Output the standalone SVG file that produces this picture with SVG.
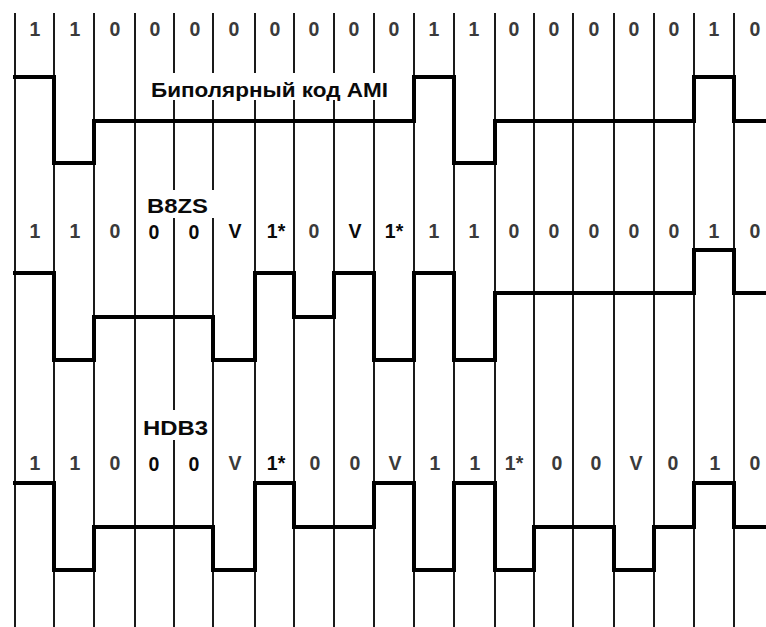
<svg xmlns="http://www.w3.org/2000/svg" width="766" height="627" viewBox="0 0 766 627">
<style>
.grid{stroke:#1a1a1a;stroke-width:2;fill:none}
.wave{stroke:#000;stroke-width:4;fill:none;stroke-linejoin:miter;stroke-linecap:square}
.bit{font-family:"Liberation Sans",Arial,sans-serif;font-size:19.5px;font-weight:bold;fill:#3a3a3a;text-anchor:middle}
.dk{fill:#0a0a0a}
.lbl{font-family:"Liberation Sans",Arial,sans-serif;font-size:21px;font-weight:bold;fill:#0a0a0a}
</style>
<rect width="766" height="627" fill="#fff"/>
<g id="grid" class="grid">
<path d="M15,13V627M54,13V627M94,13V627M135,13V627"/>
<path d="M174,13V73M174,100V190M174,218V410M174,440V627"/>
<path d="M213,13V73M213,100V190M213,218V627"/>
<path d="M255,13V73M255,100V627M294,13V73M294,100V627M334,13V73M334,100V627M374,13V73M374,100V627"/>
<path d="M414,13V627M454,13V627M495,13V627M534,13V627M573,13V627M614,13V627M654,13V627M694,13V627M734,13V627"/>
</g>
<g id="top-bits" class="bit">
<text x="35" y="36">1</text><text x="75" y="36">1</text><text x="115" y="36">0</text><text x="155" y="36">0</text><text x="195" y="36">0</text><text x="234" y="36">0</text><text x="275" y="36">0</text><text x="314" y="36">0</text><text x="354" y="36">0</text><text x="394" y="36">0</text><text x="434" y="36">1</text><text x="474" y="36">1</text><text x="514" y="36">0</text><text x="554" y="36">0</text><text x="594" y="36">0</text><text x="634" y="36">0</text><text x="674" y="36">0</text><text x="714" y="36">1</text><text x="755" y="36">0</text>
</g>
<g id="ami">
<path class="wave" d="M15,77H54V163H94V121H414V77H454V163H495V121H694V77H734V121H766"/>
<text class="lbl" x="151" y="97" textLength="237" lengthAdjust="spacingAndGlyphs">Биполярный код AMI</text>
</g>
<g id="b8zs">
<text class="lbl" x="147" y="213" textLength="61" lengthAdjust="spacingAndGlyphs">B8ZS</text>
<g class="bit">
<text x="35" y="238">1</text><text x="75" y="238">1</text><text x="115" y="238">0</text><text class="dk" x="154" y="239">0</text><text class="dk" x="194" y="239">0</text><text class="dk" x="235" y="238">V</text><text class="dk" x="276" y="238">1*</text><text x="314" y="238">0</text><text class="dk" x="355" y="238">V</text><text class="dk" x="394" y="238">1*</text><text x="434" y="238">1</text><text x="474" y="238">1</text><text x="514" y="238">0</text><text x="554" y="238">0</text><text x="594" y="238">0</text><text x="634" y="238">0</text><text x="674" y="238">0</text><text x="714" y="238">1</text><text x="755" y="238">0</text>
</g>
<path class="wave" d="M15,273H54V360H94V317H213V360H255V273H294V317H334V273H374V360H414V273H454V360H495V293H694V250H734V293H766"/>
</g>
<g id="hdb3">
<text class="lbl" x="143" y="435" textLength="65" lengthAdjust="spacingAndGlyphs">HDB3</text>
<g class="bit">
<text x="35" y="470">1</text><text x="75" y="470">1</text><text x="115" y="470">0</text><text class="dk" x="154" y="471">0</text><text class="dk" x="194" y="471">0</text><text x="235" y="470">V</text><text class="dk" x="276" y="470">1*</text><text x="315" y="470">0</text><text x="355" y="470">0</text><text x="395" y="470">V</text><text x="435" y="470">1</text><text x="475" y="470">1</text><text x="514" y="470">1*</text><text x="557" y="470">0</text><text x="596" y="470">0</text><text x="636" y="470">V</text><text x="673" y="470">0</text><text x="715" y="470">1</text><text x="755" y="470">0</text>
</g>
<path class="wave" d="M15,483H54V570H94V527H213V570H255V483H294V527H374V483H414V570H454V483H495V570H534V527H614V570H654V527H694V483H734V527H766"/>
</g>
</svg>
